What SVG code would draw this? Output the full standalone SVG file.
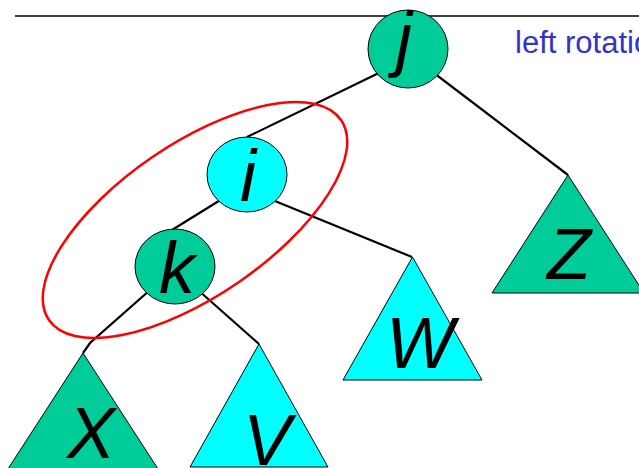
<svg xmlns="http://www.w3.org/2000/svg" width="639" height="468" viewBox="0 0 639 468">
  <style>
    .edge { stroke: #000; stroke-width: 2.2; fill: none; }
    .green { fill: #00CC99; stroke: #000; stroke-width: 1; }
    .cyan { fill: #00FFFF; stroke: #000; stroke-width: 1; }
    .lbl { font-family: "Liberation Sans", Arial, sans-serif; font-style: italic; font-size: 72px; fill: #000; text-anchor: middle; }
    .title { font-family: "Liberation Sans", Arial, sans-serif; font-size: 31px; fill: #3333CC; }
  </style>
  <rect width="639" height="468" fill="#fff"/>
  <line x1="15" y1="16" x2="639" y2="16" stroke="#000" stroke-width="1.6"/>
  <text class="title" x="515" y="53">left rotation</text>
  <g id="connectors">
    <line class="edge" x1="247" y1="137" x2="385" y2="70"/>
    <line class="edge" x1="430" y1="70" x2="568" y2="175"/>
    <line class="edge" x1="270" y1="199" x2="412" y2="257"/>
    <line class="edge" x1="222" y1="199" x2="172" y2="230"/>
    <polyline class="edge" points="150,290 90,343 83,353"/>
    <line class="edge" x1="198" y1="290" x2="259" y2="344"/>
  </g>
  <g id="node-j">
    <ellipse class="green" cx="408" cy="49" rx="40" ry="39"/>
    <text class="lbl" x="404" y="63">j</text>
  </g>
  <g id="node-i">
    <ellipse class="cyan" cx="247" cy="174.5" rx="40" ry="37.5"/>
    <text class="lbl" x="248" y="201">i</text>
  </g>
  <g id="node-k">
    <ellipse class="green" cx="175" cy="266.5" rx="40" ry="37.5"/>
    <text class="lbl" x="177" y="293">k</text>
  </g>
  <g id="node-Z">
    <polygon class="green" points="568,175 644,293 492,293"/>
    <text class="lbl" x="569" y="279">Z</text>
  </g>
  <g id="node-W">
    <polygon class="cyan" points="412.5,257 482,380 343,380"/>
    <text class="lbl" x="420" y="368">W</text>
  </g>
  <g id="node-X">
    <polygon class="green" points="83,353 160,472 6,472"/>
    <text class="lbl" x="91" y="458">X</text>
  </g>
  <g id="node-V">
    <polygon class="cyan" points="259,344 328,467 190,467"/>
    <text class="lbl" x="267" y="465">V</text>
  </g>
  <g id="highlight">
    <ellipse cx="195" cy="220" rx="177" ry="76" transform="rotate(-34.4 195 220)" fill="none" stroke="#FF0000" stroke-width="2.5"/>
  </g>
</svg>
